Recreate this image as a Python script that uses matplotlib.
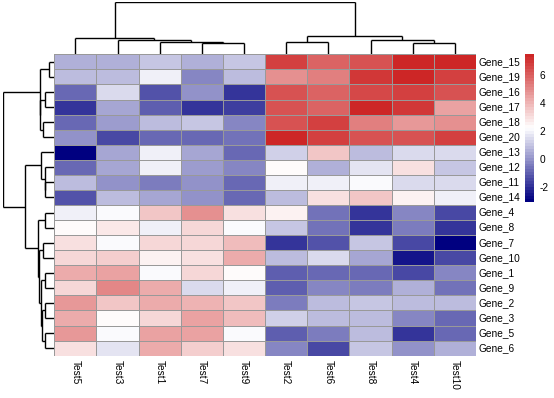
import numpy as np
import matplotlib
matplotlib.use("Agg")
import matplotlib.pyplot as plt
from matplotlib.colors import ListedColormap, LinearSegmentedColormap, Normalize

plt.rcParams['font.family'] = ['Liberation Sans', 'DejaVu Sans']
plt.rcParams['axes.unicode_minus'] = False

# ---------------- data ----------------
columns = ["Test5", "Test3", "Test1", "Test7", "Test9",
           "Test2", "Test6", "Test8", "Test4", "Test10"]
genes = ["Gene_15", "Gene_19", "Gene_16", "Gene_17", "Gene_18", "Gene_20",
         "Gene_13", "Gene_12", "Gene_11", "Gene_14", "Gene_4", "Gene_8",
         "Gene_7", "Gene_10", "Gene_1", "Gene_9", "Gene_2", "Gene_3",
         "Gene_5", "Gene_6"]

gene_15 = [0.65, 0.65, 1.08, 0.65, 1.08, 6.70, 5.90, 6.33, 7.40, 7.40]
gene_19 = [0.83, 0.83, 1.93, -0.24, 0.83, 4.85, 5.25, 7.06, 7.30, 6.70]
gene_16 = [-0.73, 1.52, -1.20, -0.08, -1.80, 6.33, 5.90, 6.60, 6.80, 6.40]
gene_17 = [-1.80, 0.35, -0.98, -1.80, -1.62, 6.40, 5.97, 7.50, 7.00, 4.47]
gene_18 = [-0.88, 0.19, 0.83, 1.08, -0.30, 6.40, 6.75, 5.25, 4.56, 4.80]
gene_20 = [-0.08, -1.40, -0.77, -0.88, -0.56, 7.50, 6.80, 6.25, 6.40, 6.70]
gene_13 = [-3.05, 0.35, 1.93, 0.35, -0.88, 1.30, 3.50, 0.77, 1.52, 1.52]
gene_12 = [-0.88, 0.35, 1.93, 0.19, -0.30, 2.30, 0.65, 1.77, 2.90, 1.05]
gene_11 = [0.83, -0.08, -0.46, -0.08, -0.88, 1.93, 1.93, 2.10, 1.52, 1.52]
gene_14 = [-1.20, 0.83, 0.35, -0.08, -0.88, 0.83, 2.90, 3.50, 2.55, 1.85]
gene_4 = [1.85, 2.15, 3.68, 4.95, 2.95, 2.60, -0.56, -1.80, -0.14, -1.46]
gene_8 = [2.30, 2.85, 1.85, 3.26, 2.15, 1.05, -0.56, -1.80, -0.40, -1.80]
gene_7 = [3.05, 2.15, 3.10, 3.26, 3.84, -1.80, -1.30, 1.05, -1.40, -3.05]
gene_10 = [3.26, 3.45, 2.55, 3.05, 4.13, 0.83, 1.52, 0.35, -2.47, -1.46]
gene_1 = [4.13, 4.47, 2.15, 3.26, 2.30, -1.05, -0.88, -0.73, -1.57, -0.14]
gene_9 = [3.26, 5.00, 4.13, 1.52, 1.85, -0.98, -0.14, -0.46, 0.65, -0.56]
gene_2 = [4.70, 3.68, 4.13, 3.93, 3.50, -0.46, 0.83, 1.05, 0.83, 0.83]
gene_3 = [4.13, 2.30, 3.26, 4.37, 3.80, 1.30, 0.77, 0.83, -0.14, -0.88]
gene_5 = [4.70, 2.15, 4.50, 4.50, 2.15, -0.98, -0.40, 0.77, -1.80, -0.73]
gene_6 = [2.95, 1.65, 4.13, 3.45, 3.00, -0.30, -1.46, 1.05, -0.08, 0.65]

rows = [gene_15, gene_19, gene_16, gene_17, gene_18, gene_20, gene_13,
        gene_12, gene_11, gene_14, gene_4, gene_8, gene_7, gene_10,
        gene_1, gene_9, gene_2, gene_3, gene_5, gene_6]

# dendrograms: (merge height, left, right)
col_tree = (51.7,
            (16.7, "Test5", (14.7, "Test3", (12.7, "Test1", (11.7, "Test7", "Test9")))),
            (18.0, (12.7, "Test2", "Test6"), (14.7, "Test8", (11.7, "Test4", "Test10"))))
row_tree = (51.6,
            (14.6, (5.6, "Gene_15", "Gene_19"),
             (14.0, (9.3, "Gene_16", "Gene_17"), (11.0, "Gene_18", "Gene_20"))),
            (29.3,
             (13.3, "Gene_13", (9.6, "Gene_12", (9.0, "Gene_11", "Gene_14"))),
             (16.0, (9.3, "Gene_4", "Gene_8"),
              (15.0, (11.6, "Gene_7", "Gene_10"),
               (13.3, (9.3, "Gene_1", "Gene_9"),
                (12.6, (9.3, "Gene_2", "Gene_3"), (9.3, "Gene_5", "Gene_6")))))))

# ---------------- figure ----------------
W, H = 554, 398
fig = plt.figure(figsize=(W / 100, H / 100), dpi=100)


def px_axes(x0, y0, x1, y1):
    return fig.add_axes([x0 / W, 1 - y1 / H, (x1 - x0) / W, (y1 - y0) / H])


mat = np.array(rows)
vmin, vmax = mat.min(), mat.max()
base = LinearSegmentedColormap.from_list("nwf", ["#000080", "#FFFFFF", "#CD2626"])
cmap = ListedColormap(base(np.linspace(0, 1, 50)))
norm = Normalize(vmin=vmin, vmax=vmax)

HX0, HY0, HX1, HY1 = 54.3, 54.3, 476.0, 355.7
ax = px_axes(HX0, HY0, HX1, HY1)
nr, nc = mat.shape
ax.pcolormesh(np.arange(nc + 1), np.arange(nr + 1), mat, cmap=cmap, norm=norm,
              edgecolors="#999999", linewidth=0.65)
ax.set_xlim(0, nc)
ax.set_ylim(nr, 0)
ax.set_xticks([])
ax.set_yticks([])
for s in ax.spines.values():
    s.set_visible(False)

for i, g in enumerate(genes):
    ax.text(nc + 0.07, i + 0.5, g, ha="left", va="center", fontsize=7.3, color="#000000")
for j, c in enumerate(columns):
    ax.text(j + 0.5, nr + 0.27, c, rotation=270, ha="center", va="top",
            fontsize=7.3, color="#000000")


def draw_tree(axd, node, pos_of, orient):
    if isinstance(node, str):
        return pos_of[node], 0.0
    h, left, right = node
    pl, hl = draw_tree(axd, left, pos_of, orient)
    pr, hr = draw_tree(axd, right, pos_of, orient)
    segs = [((pl, pl), (hl, h)), ((pr, pr), (hr, h)), ((pl, pr), (h, h))]
    for p, hh in segs:
        if orient == "top":
            axd.plot(p, hh, color="black", lw=1.0, solid_capstyle="butt")
        else:
            axd.plot(hh, p, color="black", lw=1.0, solid_capstyle="butt")
    return (pl + pr) / 2, h


# column dendrogram
axc = px_axes(HX0, 2.3, HX1, HY0)
draw_tree(axc, col_tree, {c: j + 0.5 for j, c in enumerate(columns)}, "top")
axc.set_xlim(0, nc)
axc.set_ylim(0, col_tree[0])
axc.axis("off")

# row dendrogram
axr = px_axes(2.7, HY0, HX0, HY1)
draw_tree(axr, row_tree, {g: i + 0.5 for i, g in enumerate(genes)}, "left")
axr.set_ylim(nr, 0)
axr.set_xlim(row_tree[0], 0)
axr.axis("off")

# colour legend
axl = px_axes(525, 54, 534, 202)
sm = plt.cm.ScalarMappable(norm=norm, cmap=cmap)
cb = fig.colorbar(sm, cax=axl, ticks=[-2, 0, 2, 4, 6])
cb.outline.set_visible(False)
cb.ax.tick_params(length=0, pad=4, labelsize=7.3)

fig.savefig("out.png", dpi=100)
